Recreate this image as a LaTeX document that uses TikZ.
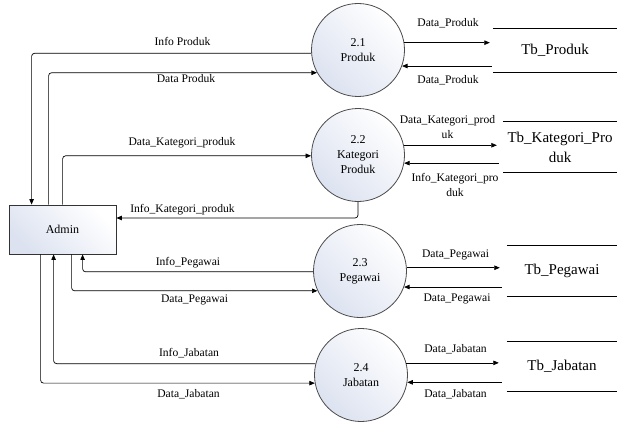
\documentclass[tikz,border=0pt]{standalone}
\usepackage{fontspec}
\setmainfont{Liberation Serif}
\usetikzlibrary{arrows.meta,calc}
\definecolor{shadeblue}{RGB}{220,226,240}
\begin{document}
\begin{tikzpicture}[x=1pt,y=-1pt,
  proc/.style={circle,draw=black!70,line width=0.8pt,minimum size=93pt,inner sep=0pt,align=center,
    font=\fontsize{12}{15}\selectfont,top color=white,bottom color=shadeblue,shading angle=-45},
  ent/.style={rectangle,draw=black!80,line width=0.8pt,minimum width=107pt,minimum height=49pt,inner sep=0pt,
    font=\fontsize{12}{15}\selectfont,top color=white,bottom color=shadeblue,shading angle=-45},
  store/.style={inner sep=0pt,align=center,font=\fontsize{15}{20}\selectfont},
  storeline/.style={draw=black,line width=0.8pt},
  lbl/.style={inner sep=0pt,align=center,font=\fontsize{11.6}{14.5}\selectfont},
  flow/.style={draw=black,line width=0.7pt,rounded corners=3pt,-{Triangle[length=5.5pt,width=4.5pt]}}
]
\useasboundingbox (0,0) rectangle (617,425);

% processes
\node[proc] (c1) at (358,50) {2.1\\Produk};
\node[proc] (c2) at (358,155) {2.2\\Kategori\\Produk};
\node[proc] (c3) at (360,271) {2.3\\Pegawai};
\node[proc] (c4) at (361,375) {2.4\\Jabatan};

% entity
\node[ent] (admin) at (62.5,229.5) {Admin};

% stores
\node[store,minimum width=124pt,minimum height=43pt] (s1) at (555,50.5) {Tb\_Produk};
\node[store,minimum width=114pt,minimum height=50pt] (s2) at (560,147) {Tb\_Kategori\_Pro\\duk};
\node[store,minimum width=110pt,minimum height=50pt] (s3) at (562,271) {Tb\_Pegawai};
\node[store,minimum width=110pt,minimum height=49pt] (s4) at (562,366.5) {Tb\_Jabatan};
\foreach \s in {s1,s2,s3,s4}{
  \draw[storeline] (\s.north west) -- (\s.north east);
  \draw[storeline] (\s.south west) -- (\s.south east);
}

% left flows
\draw[flow] (c1.184) -| ([xshift=23pt]admin.north west);
\draw[flow] ([xshift=40pt]admin.north west) |- (c1.209);
\draw[flow] ([xshift=54pt]admin.north west) |- (c2.181);
\draw[flow] (c2.south) |- ([yshift=11.5pt]admin.east);
\draw[flow] (c3.181) -| ([xshift=74pt]admin.south west);
\draw[flow] ([xshift=63pt]admin.south west) |- (c3.205);
\draw[flow] (c4.166) -| ([xshift=45pt]admin.south west);
\draw[flow] ([xshift=32pt]admin.south west) |- (c4.190);

% right flows
\draw[flow,shorten >=3pt] (c1.9) -- (c1.9 -| s1.west);
\draw[flow,shorten <=1pt] (s1.west |- c1.340) -- (c1.340);
\draw[flow,shorten >=6pt] (c2.12) -- (c2.12 -| s2.west);
\draw[flow,shorten <=4pt] (s2.west |- c2.350) -- (c2.350);
\draw[flow,shorten >=7pt] (c3.4) -- (c3.4 -| s3.west);
\draw[flow,shorten <=5pt] (s3.west |- c3.340) -- (c3.340);
\draw[flow,shorten >=8pt] (c4.15) -- (c4.15 -| s4.west);
\draw[flow,shorten <=5pt] (s4.west |- c4.351) -- (c4.351);

% labels left
\node[lbl] (l1) at (182.5,41) {Info Produk};
\node[lbl] (l2) at (186,79) {Data Produk};
\node[lbl] (l3) at (182,143) {Data\_Kategori\_produk};
\node[lbl] (l4) at (182.5,210) {Info\_Kategori\_produk};
\node[lbl] (l5) at (188,263) {Info\_Pegawai};
\node[lbl] (l6) at (194.5,300) {Data\_Pegawai};
\node[lbl] (l7) at (189,353) {Info\_Jabatan};
\node[lbl] (l8) at (188.5,394) {Data\_Jabatan};

% labels right
\node[lbl] (r1) at (448,23) {Data\_Produk};
\node[lbl] (r2) at (448,80) {Data\_Produk};
\node[lbl] (r3) at (447.5,127) {Data\_Kategori\_prod\\uk};
\node[lbl] (r4) at (455,185) {Info\_Kategori\_pro\\duk};
\node[lbl] (r5) at (455.5,255) {Data\_Pegawai};
\node[lbl] (r6) at (457,299) {Data\_Pegawai};
\node[lbl] (r7) at (455.5,349) {Data\_Jabatan};
\node[lbl] (r8) at (455.5,394) {Data\_Jabatan};
\end{tikzpicture}
\end{document}
